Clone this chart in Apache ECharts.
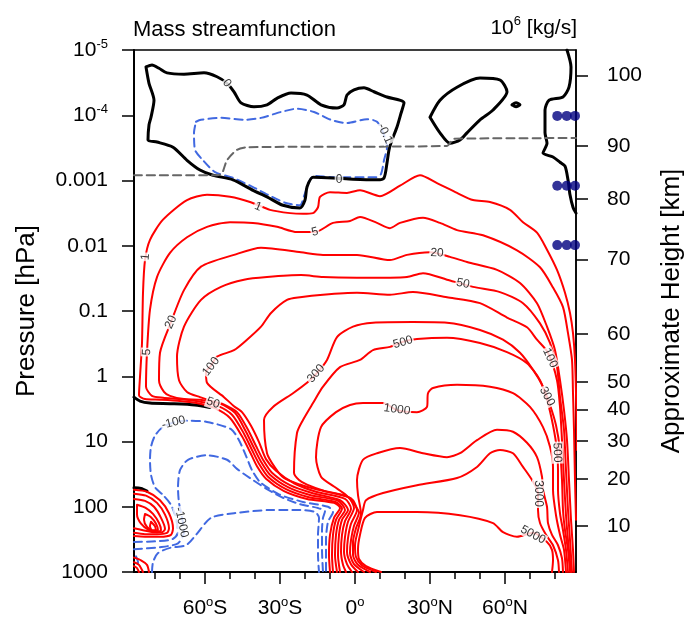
<!DOCTYPE html>
<html><head><meta charset="utf-8">
<script src="https://cdn.jsdelivr.net/npm/echarts@6/dist/echarts.min.js"></script>
<style>html,body{margin:0;padding:0;background:#fff}#c{width:686px;height:621px}</style>
</head><body><div id="c"></div>
<script>
const FONT = '"Liberation Sans", Arial, Helvetica, sans-serif';

// ---- axes (latitude in degrees, pressure as log10(p / hPa)) ----
const latTicks = [-60, -30, 0, 30, 60];
const latTickText = ['{n|60}{s|o}{n|S}', '{n|30}{s|o}{n|S}', '{n|0}{s|o}', '{n|30}{s|o}{n|N}', '{n|60}{s|o}{n|N}'];
const latMinor = [-80, -70, -50, -40, -20, -10, 10, 20, 40, 50, 70, 80];
const pTicks = [-5, -4, -3, -2, -1, 0, 1, 2, 3];
const pTickText = ['{n|10}{s|-5}', '{n|10}{s|-4}', '{n|0.001}', '{n|0.01}', '{n|0.1}', '{n|1}', '{n|10}', '{n|100}', '{n|1000}'];
const kmTicks = [10, 20, 30, 40, 50, 60, 70, 80, 90, 100];
const kmLogP = [2.295, 1.575, 0.988, 0.507, 0.084, -0.648, -1.792, -2.721, -3.529, -4.612];

// ---- zero contours (black) ----
const zeroMain = [[-83.6,-4.74],[-81.2,-4.77],[-78.4,-4.72],[-75.2,-4.65],[-68.4,-4.63],[-60.4,-4.65],[-55.2,-4.59],[-51.2,-4.49],[-48.4,-4.36],[-45.6,-4.19],[-40.4,-4.13],[-35.2,-4.16],[-31.2,-4.26],[-25.6,-4.34],[-19.2,-4.31],[-13.6,-4.16],[-7.2,-4.11],[-4.4,-4.16],[-3.2,-4.31],[-0.4,-4.39],[3.6,-4.42],[7.6,-4.36],[12.8,-4.28],[19.6,-4.19],[18.4,-4.03],[16.8,-3.82],[14.8,-3.62],[13.6,-3.47],[12.8,-3.27],[11.6,-3.04],[8.8,-3.01],[-0.8,-3.02],[-8.8,-3.04],[-16.8,-3.05],[-19.2,-2.90],[-20,-2.70],[-22,-2.58],[-28.8,-2.62],[-35.2,-2.75],[-40.8,-2.85],[-48.8,-3.01],[-56.8,-3.08],[-62,-3.16],[-67.2,-3.31],[-72.8,-3.51],[-79.2,-3.59],[-82.8,-3.62],[-82.4,-3.85],[-81.6,-3.97],[-80.4,-4.23],[-82.4,-4.49],[-83.6,-4.74]];
const zeroIsland = [[30,-3.97],[34,-4.23],[40.8,-4.43],[50,-4.57],[58,-4.54],[60.8,-4.36],[55.2,-4.08],[50,-3.93],[44.8,-3.73],[42,-3.62],[38,-3.57],[34,-3.73],[30,-3.97]];
const zeroDot = [[62.8,-4.16],[64.4,-4.19],[66,-4.16],[64.4,-4.13],[62.8,-4.16]];
const zeroEdge = [[84.8,-5.00],[86.4,-4.74],[85.6,-4.43],[83.2,-4.28],[77.6,-4.23],[76,-4.08],[76,-3.73],[76.8,-3.57],[75.2,-3.42],[79.2,-3.36],[82,-3.28],[84,-3.22],[85.2,-3.01],[86,-2.78],[87.2,-2.59],[88.4,-2.50]];
const zeroLow = [[-88.4,0.32],[-86.0,0.38],[-82.0,0.41],[-74.0,0.42],[-64.0,0.44],[-58.0,0.48]];
const zeroCell = [[-88.4,1.71],[-85.6,1.72],[-83.2,1.76]];

// ---- negative contours (blue dashed) ----
const neg01 = [[-63.6,-3.90],[-61.6,-3.93],[-53.6,-3.96],[-44.4,-3.93],[-37.6,-3.96],[-29.6,-4.05],[-23.2,-4.10],[-16.4,-4.05],[-9.6,-3.93],[-3.2,-3.88],[4.8,-3.94],[8.8,-3.90],[11.6,-3.70],[12.8,-3.51],[11.6,-3.31],[10.4,-3.10],[8.4,-3.05],[-8.4,-3.05],[-16.4,-3.07],[-18.4,-2.98],[-20.4,-2.76],[-22,-2.62],[-28,-2.66],[-34.8,-2.78],[-40.8,-2.90],[-48.8,-3.04],[-56,-3.13],[-60.8,-3.31],[-64,-3.47],[-64.4,-3.73],[-63.6,-3.90]];
const neg100 = [[-88.4,2.54],[-80.0,2.53],[-73.2,2.50],[-70.8,2.39],[-71.6,2.17],[-73.6,1.97],[-76.8,1.82],[-80.0,1.70],[-81.6,1.51],[-82.0,1.28],[-81.6,1.08],[-80.0,0.91],[-77.2,0.79],[-72.0,0.70],[-66.0,0.68],[-59.2,0.70],[-49.6,0.81],[-46.4,0.98],[-43.6,1.22],[-41.2,1.44],[-38.0,1.62],[-30.4,1.81],[-20.4,1.93],[-10.8,2.00],[-8.8,2.08],[-10.8,2.23],[-11.6,2.51],[-11.6,3.00]];
const neg1000 = [[-88.4,2.65],[-78.0,2.62],[-70.8,2.56],[-68.4,2.39],[-69.2,2.16],[-70.4,1.94],[-70.8,1.71],[-70.0,1.44],[-66.8,1.28],[-59.2,1.21],[-51.2,1.28],[-47.2,1.42],[-41.6,1.57],[-35.2,1.73],[-28.4,1.87],[-22.0,1.96],[-14.8,2.02],[-12.0,2.07],[-12.8,2.17],[-13.2,2.36],[-13.2,2.66],[-12.8,3.00]];
const negInner = [[-81.2,3.00],[-80.8,2.85],[-78.8,2.71],[-74.0,2.63],[-67.6,2.59],[-63.6,2.43],[-57.6,2.17],[-48.4,2.10],[-34.0,2.05],[-22.0,2.05],[-16.0,2.08],[-14.4,2.17],[-14.8,2.43],[-14.8,2.74],[-14.4,3.00]];
const negArc = [[-87.6,2.76],[-86.8,2.85],[-87.6,2.94]];

// ---- positive contours (red) ----
const c1 = [[-10.0,3.00],[-10.4,2.74],[-10.0,2.43],[-8.4,2.17],[-6.0,2.02],[-8.4,1.94],[-19.2,1.88],[-28.4,1.76],[-35.6,1.57],[-39.2,1.38],[-42.0,1.16],[-45.2,0.92],[-50.0,0.64],[-56.0,0.49],[-62.0,0.42],[-70.0,0.38],[-78.0,0.36],[-84.0,0.35],[-86.4,0.29],[-86.0,0.01],[-85.2,-0.51],[-84.8,-1.28],[-84.0,-1.78],[-82.0,-2.09],[-76.8,-2.40],[-67.2,-2.70],[-59.2,-2.78],[-50.0,-2.75],[-42.0,-2.67],[-34.0,-2.55],[-26.0,-2.50],[-20.8,-2.49],[-16.8,-2.50],[-14.8,-2.59],[-14.0,-2.75],[-10.0,-2.82],[-3.2,-2.81],[2.0,-2.85],[10.0,-2.76],[18.0,-2.92],[26.0,-3.08],[32.8,-2.96],[40.8,-2.81],[47.2,-2.70],[54.0,-2.67],[62.0,-2.55],[67.2,-2.36],[72.8,-2.20],[76.8,-1.94],[80.8,-1.63],[84.0,-1.28],[86.0,-0.97],[87.2,-0.66],[88.0,-0.25],[88.4,0.26],[88.8,1.13]];
const c5 = [[-8.8,3.00],[-9.2,2.74],[-8.8,2.43],[-7.6,2.20],[-5.2,2.03],[-7.6,1.93],[-18.8,1.85],[-27.6,1.73],[-34.8,1.54],[-38.4,1.34],[-41.2,1.13],[-44.4,0.88],[-49.2,0.59],[-55.2,0.45],[-62.0,0.39],[-70.0,0.35],[-76.8,0.33],[-81.2,0.30],[-83.6,0.16],[-83.2,-0.37],[-82.0,-1.02],[-79.2,-1.52],[-74.0,-1.89],[-67.2,-2.13],[-59.2,-2.29],[-50.0,-2.36],[-40.8,-2.35],[-31.2,-2.29],[-23.2,-2.21],[-16.0,-2.21],[-8.8,-2.35],[-2.0,-2.38],[2.0,-2.44],[8.8,-2.35],[14.0,-2.27],[18.0,-2.35],[27.2,-2.43],[34.0,-2.35],[40.8,-2.24],[51.2,-2.16],[64.8,-1.93],[74.0,-1.67],[79.2,-1.36],[83.2,-1.06],[85.2,-0.66],[86.8,-0.25],[87.2,0.26],[87.6,0.82],[88.0,1.59],[88.4,2.20]];
const c20 = [[-7.2,3.00],[-8.0,2.74],[-7.6,2.43],[-6.4,2.20],[-4.0,2.05],[-6.8,1.91],[-18.0,1.82],[-26.8,1.70],[-34.0,1.51],[-37.6,1.31],[-40.4,1.10],[-43.6,0.85],[-48.0,0.56],[-54.0,0.42],[-62.0,0.36],[-68.4,0.35],[-74.0,0.30],[-76.4,0.24],[-78.4,0.06],[-78.0,-0.36],[-73.6,-0.83],[-68.4,-1.32],[-61.6,-1.68],[-48.4,-1.86],[-37.6,-1.97],[-21.6,-1.90],[-12.8,-1.86],[0.8,-1.86],[14.0,-1.78],[20.8,-1.86],[30.0,-1.90],[38.0,-1.83],[44.8,-1.75],[56.8,-1.63],[66.0,-1.43],[72.8,-1.12],[76.8,-0.76],[80.0,-0.40],[82.0,0.06],[83.6,0.52],[84.8,0.98],[85.6,1.59],[86.4,2.20],[87.2,2.66],[87.6,3.00]];
const c50 = [[-6.0,3.00],[-6.8,2.74],[-6.4,2.43],[-5.2,2.20],[-2.8,2.05],[-6.0,1.90],[-17.2,1.79],[-26.0,1.67],[-33.2,1.48],[-36.8,1.28],[-39.6,1.07],[-42.8,0.82],[-47.2,0.55],[-53.2,0.42],[-56.4,0.39],[-62.0,0.32],[-67.2,0.24],[-70.4,0.06],[-71.2,-0.30],[-68.4,-0.76],[-61.6,-1.17],[-53.6,-1.37],[-44.4,-1.48],[-35.2,-1.52],[-21.6,-1.55],[-12.8,-1.52],[0.8,-1.51],[14.0,-1.51],[20.8,-1.52],[27.2,-1.58],[36.8,-1.48],[47.2,-1.37],[58.0,-1.29],[67.2,-1.12],[74.0,-0.81],[78.0,-0.51],[80.8,-0.14],[82.0,0.32],[83.6,0.82],[84.4,1.44],[85.2,2.05],[86.0,2.51],[86.8,3.00]];
const c100 = [[-3.6,3.00],[-4.8,2.89],[-5.6,2.69],[-5.2,2.43],[-4.0,2.22],[-1.6,2.03],[-4.0,1.88],[-15.6,1.77],[-24.4,1.64],[-31.6,1.45],[-35.6,1.27],[-38.4,1.01],[-41.6,0.76],[-45.2,0.55],[-48.4,0.46],[-52.4,0.32],[-59.2,0.10],[-59.6,-0.07],[-57.6,-0.16],[-55.2,-0.30],[-48.4,-0.40],[-43.2,-0.56],[-37.6,-0.76],[-33.6,-0.97],[-27.2,-1.17],[-22.0,-1.21],[-12.8,-1.25],[0.8,-1.28],[14.0,-1.25],[23.2,-1.29],[36.8,-1.21],[50.0,-1.12],[60.8,-0.90],[68.8,-0.75],[72.8,-0.56],[77.2,-0.36],[80.8,0.06],[82.0,0.47],[82.8,0.98],[83.6,1.59],[84.4,2.13],[85.2,2.51],[86.4,3.00]];
const c300 = [[-1.2,3.00],[-3.2,2.88],[-4.4,2.69],[-4.0,2.46],[-2.8,2.23],[-0.4,2.02],[-2.8,1.85],[-14.8,1.74],[-22.0,1.66],[-28.4,1.56],[-32.0,1.40],[-35.2,1.18],[-36.4,0.67],[-32.8,0.47],[-24.8,0.26],[-19.2,0.10],[-15.2,-0.05],[-11.2,-0.25],[-7.2,-0.60],[-0.8,-0.76],[7.2,-0.82],[23.2,-0.83],[36.8,-0.82],[50.0,-0.71],[59.2,-0.56],[66.0,-0.36],[71.2,-0.10],[75.2,0.16],[78.0,0.44],[80.4,0.75],[82.0,1.13],[82.8,1.59],[83.2,2.05],[84.0,2.36],[85.2,2.66],[86.0,3.00]];
const c500 = [[1.2,3.00],[-1.6,2.88],[-3.2,2.69],[-2.8,2.48],[-1.6,2.26],[0.8,2.05],[-1.6,1.87],[-12.0,1.76],[-19.2,1.66],[-22.4,1.59],[-24.4,1.48],[-23.2,0.87],[-20.8,0.67],[-16.8,0.41],[-12.8,0.16],[-6.0,-0.14],[2.0,-0.25],[7.2,-0.40],[14.0,-0.45],[19.2,-0.53],[24.8,-0.57],[36.8,-0.59],[50.0,-0.51],[60.8,-0.37],[68.8,-0.20],[74.0,0.06],[76.8,0.36],[79.2,0.75],[80.8,1.13],[81.2,1.44],[81.2,1.74],[82.0,2.10],[83.2,2.36],[84.4,2.66],[85.2,3.00]];
const c1000 = [[3.6,3.00],[-0.4,2.88],[-2.0,2.71],[-1.6,2.51],[-0.4,2.29],[1.6,2.09],[-0.4,1.96],[-3.6,1.82],[-8.4,1.69],[-13.6,1.54],[-15.6,1.24],[-13.6,0.78],[-7.6,0.55],[-2.0,0.44],[3.2,0.41],[11.2,0.41],[16.8,0.52],[24.8,0.55],[28.8,0.47],[29.2,0.26],[31.2,0.18],[40.8,0.13],[54.0,0.16],[63.2,0.26],[70.0,0.47],[75.2,0.78],[78.0,1.08],[79.2,1.39],[79.2,1.74],[80.4,2.13],[82.0,2.43],[83.6,2.66],[84.4,3.00]];
const c2000 = [[6.0,3.00],[1.2,2.89],[-0.8,2.74],[-0.8,2.54],[0.4,2.33],[2.4,2.11],[1.2,1.82],[0.8,1.59],[3.2,1.28],[8.8,1.18],[18.0,1.10],[27.2,1.18],[36.8,1.24],[42.0,1.18],[48.8,0.98],[56.8,0.82],[63.2,0.85],[68.8,1.02],[72.8,1.24],[74.8,1.54],[75.2,1.74],[76.8,2.00],[77.2,2.25],[78.8,2.43],[81.2,2.59],[82.8,2.79],[83.2,3.00]];
const c3000 = [[8.4,3.00],[2.8,2.90],[0.4,2.77],[0.0,2.59],[1.2,2.36],[3.2,2.05],[4.4,1.90],[11.2,1.79],[24.8,1.67],[40.8,1.56],[48.8,1.39],[54.0,1.18],[58.0,1.13],[63.2,1.18],[67.2,1.39],[70.8,1.59],[73.2,1.79],[73.2,2.05],[74.0,2.25],[76.4,2.43],[79.2,2.59],[81.2,2.82],[81.6,3.00]];
const c5000 = [[10.4,3.00],[4.4,2.91],[1.6,2.80],[1.2,2.65],[2.0,2.43],[4.0,2.17],[8.8,2.08],[24.8,2.08],[42.0,2.13],[55.2,2.25],[59.2,2.39],[64.8,2.46],[71.2,2.40],[76.8,2.54],[78.8,2.66],[79.2,2.82],[78.8,3.00]];
// small closed positive cells near the south pole
const cellA = [[-88.4,1.74],[-83.2,1.77],[-78.0,1.90],[-74.4,2.10],[-72.8,2.33],[-73.6,2.43],[-78.0,2.46],[-84.0,2.46],[-88.4,2.45]];
const cellB = [[-88.4,1.80],[-83.6,1.83],[-79.2,1.94],[-76.0,2.12],[-74.4,2.33],[-75.2,2.40],[-79.2,2.42],[-84.0,2.42],[-88.4,2.40]];
const cellC = [[-88.4,1.88],[-84.0,1.91],[-80.4,2.00],[-77.6,2.17],[-76.0,2.34],[-77.2,2.39],[-80.8,2.39],[-84.8,2.36],[-88.4,2.33]];
const cellD = [[-87.2,1.97],[-83.6,2.02],[-80.8,2.11],[-78.4,2.25],[-77.6,2.36],[-79.2,2.39],[-82.4,2.36],[-85.6,2.26],[-87.2,2.12],[-87.2,1.97]];
const cellE = [[-84.0,2.11],[-81.6,2.16],[-79.6,2.26],[-78.8,2.36],[-80.8,2.37],[-83.2,2.31],[-84.4,2.20],[-84.0,2.11]];
const cellF = [[-81.6,2.23],[-80.0,2.30],[-79.6,2.36],[-81.2,2.36],[-82.0,2.30],[-81.6,2.23]];
const cellS1 = [[-88.4,2.78],[-85.6,2.82],[-83.2,2.89],[-82.4,3.00]];
const cellS2 = [[-88.4,2.85],[-86.4,2.89],[-84.8,3.00]];
const cellS3 = [[-88.4,2.91],[-87.2,2.94],[-86.4,3.00]];

// ---- grey dashed reference line ----
const refLine = [[-88.4,-3.08],[-55.2,-3.08],[-53.2,-3.11],[-51.2,-3.31],[-47.2,-3.47],[-43.2,-3.51],[36.8,-3.53],[39.6,-3.64],[88.4,-3.65]];

// ---- navy markers ----
const dots = [[80.9,-3.99],[84.7,-3.99],[88.0,-3.99],[80.9,-2.92],[84.7,-2.92],[88.0,-2.92],[80.9,-2.01],[84.7,-2.01],[88.0,-2.01]];

// ---- contour labels: [lat, log10 p, text, rotation] ----
const contourLabels = [
  [-51.2,-4.49,'0',-50],[-6.4,-3.02,'0',0],[12.0,-3.72,'-0.1',-65],
  [-38.8,-2.60,'1',-22],[-83.8,-1.83,'1',85],[-83.3,-0.37,'5',88],[-16.0,-2.21,'5',14],
  [-73.6,-0.83,'20',66],[32.8,-1.89,'20',-3],[-56.8,0.41,'50',-18],[43.2,-1.42,'50',-12],
  [-57.6,-0.15,'100',52],[78.0,-0.28,'100',-65],[-15.6,-0.04,'300',49],[76.8,0.31,'300',-62],
  [19.2,-0.52,'500',16],[80.9,1.17,'500',-88],[16.8,0.51,'1000',-8],[73.2,1.80,'3000',-90],
  [71.2,2.43,'5000',-28],[-72.6,0.71,'-100',14],[-69.4,2.24,'-1000',-78]
];

const RED = '#ff0000', BLUE = '#4169e1', BLACK = '#000000', GRAY = '#666666';
function contour(data, color, width, dash, z) {
  return { type: 'line', data: data, symbol: 'none', showSymbol: false, smooth: 0.25, clip: true,
    silent: true, animation: false, z: z,
    lineStyle: { color: color, width: width, type: dash || 'solid', cap: 'round', join: 'round' } };
}
const series = [];
[neg01, neg100, neg1000, negInner, negArc].forEach(d => series.push(contour(d, BLUE, 2, [8, 5], 3)));
[zeroMain, zeroIsland, zeroDot, zeroEdge, zeroLow, zeroCell].forEach(d => series.push(contour(d, BLACK, 3, 'solid', 4)));
[c1, c5, c20, c50, c100, c300, c500, c1000, c2000, c3000, c5000].forEach(d => series.push(contour(d, RED, 2, 'solid', 5)));
[cellA, cellB, cellC, cellD, cellE, cellF, cellS1, cellS2, cellS3].forEach(d => series.push(contour(d, RED, 2, 'solid', 5)));
series.push(contour(refLine, GRAY, 2, [8, 5], 6));
series.push({ type: 'scatter', data: dots, symbolSize: 10, itemStyle: { color: '#000080' }, z: 8, silent: true, animation: false });
series.push({ type: 'scatter', silent: true, animation: false, z: 10, symbolSize: 1,
  itemStyle: { color: 'rgba(0,0,0,0)' },
  data: contourLabels.map(l => ({ value: [l[0], l[1]], label: { formatter: l[2], rotate: l[3] } })),
  label: { show: true, position: 'inside', color: '#000', fontSize: 12, fontFamily: FONT,
    backgroundColor: '#fff', padding: [0, 1] } });

const richBase = {
  n: { fontSize: 21, lineHeight: 24, fontFamily: FONT, color: '#000' },
  s: { fontSize: 13, lineHeight: 13, fontFamily: FONT, color: '#000', verticalAlign: 'top' }
};
function idx(arr, v) { for (let i = 0; i < arr.length; i++) if (Math.abs(arr[i] - v) < 1e-6) return i; return -1; }

const option = {
  backgroundColor: '#fff',
  animation: false,
  title: [
    { text: 'Mass streamfunction', left: 128, top: 12,
      textStyle: { fontSize: 22, fontWeight: 'normal', fontFamily: FONT, color: '#000', lineHeight: 26 } },
    { text: '{n|10}{s|6}{n| [kg/s]}', right: 104, top: 10,
      textStyle: { fontWeight: 'normal', rich: {
        n: { fontSize: 21, lineHeight: 26, fontFamily: FONT, color: '#000', fontWeight: 'normal' },
        s: { fontSize: 13, lineHeight: 13, fontFamily: FONT, color: '#000', fontWeight: 'normal', verticalAlign: 'top' } } } }
  ],
  grid: { left: 134, right: 110, top: 50, bottom: 49, outerBoundsMode: 'none', containLabel: false,
    show: true, borderColor: '#000', borderWidth: 1.5, backgroundColor: 'transparent' },
  xAxis: [
    { type: 'value', min: -88.4, max: 88.4, position: 'bottom',
      axisLine: { show: true, onZero: false, lineStyle: { color: '#000', width: 2 } },
      axisTick: { show: true, length: 12, customValues: latTicks, lineStyle: { color: '#000', width: 1.5 } },
      axisLabel: { customValues: latTicks, margin: 24, formatter: v => { const i = idx(latTicks, v); return i >= 0 ? latTickText[i] : ''; }, rich: richBase },
      splitLine: { show: false } },
    { type: 'value', min: -88.4, max: 88.4, position: 'bottom', gridIndex: 0,
      axisLine: { show: false, onZero: false },
      axisTick: { show: true, length: 7, customValues: latMinor, lineStyle: { color: '#000', width: 1.5 } },
      axisLabel: { show: false }, splitLine: { show: false } }
  ],
  yAxis: [
    { type: 'value', min: -5, max: 3, interval: 1, inverse: true, position: 'left',
      name: 'Pressure [hPa]', nameLocation: 'middle', nameRotate: 90, nameGap: 94,
      nameTextStyle: { fontSize: 26, fontFamily: FONT, color: '#000' },
      axisLine: { show: true, onZero: false, lineStyle: { color: '#000', width: 2 } },
      axisTick: { show: true, length: 12, lineStyle: { color: '#000', width: 1.5 } },
      axisLabel: { margin: 26, formatter: v => { const i = idx(pTicks, v); return i >= 0 ? pTickText[i] : ''; }, rich: richBase },
      splitLine: { show: false } },
    { type: 'value', min: -5, max: 3, inverse: true, position: 'right',
      name: 'Approximate Height [km]', nameLocation: 'middle', nameRotate: 90, nameGap: 83,
      nameTextStyle: { fontSize: 26, fontFamily: FONT, color: '#000' },
      axisLine: { show: true, onZero: false, lineStyle: { color: '#000', width: 1.5 } },
      axisTick: { show: true, length: 12, customValues: kmLogP, lineStyle: { color: '#000', width: 1.5 } },
      axisLabel: { customValues: kmLogP, margin: 31, fontSize: 21, fontFamily: FONT, color: '#000',
        formatter: v => { const i = idx(kmLogP, v); return i >= 0 ? String(kmTicks[i]) : ''; } },
      splitLine: { show: false } }
  ],
  series: series.map(s => Object.assign({ xAxisIndex: 0, yAxisIndex: 0 }, s))
};
const chart = echarts.init(document.getElementById('c'), null, { renderer: 'canvas', width: 686, height: 621 });
chart.setOption(option);
</script>
</body></html>
